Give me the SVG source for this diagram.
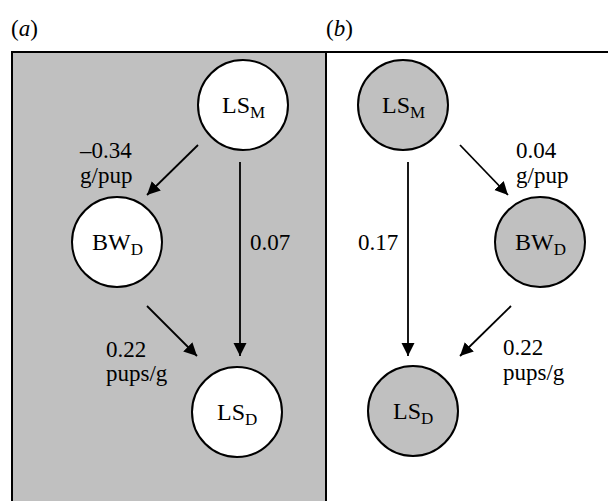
<svg xmlns="http://www.w3.org/2000/svg" width="608" height="501" viewBox="0 0 608 501" font-family="Liberation Serif">
<style>
.lbl{font-size:23px}
.nl{font-size:24px}
.sub{font-size:17px}
.node{stroke:#000;stroke-width:2}
.wn{fill:#fff}
.gn{fill:#c0c0c0}
.edge{stroke:#000;stroke-width:1.8;fill:none;marker-end:url(#ah)}
</style>
<defs>
<marker id="ah" markerUnits="userSpaceOnUse" markerWidth="14" markerHeight="14" refX="13" refY="6.5" orient="auto">
<path d="M0,0 L13,6.5 L0,13 z" fill="#000"/>
</marker>
</defs>
<rect width="608" height="501" fill="#fff"/>
<g id="panels">
<rect x="12" y="52" width="314" height="470" fill="#c0c0c0" stroke="#000" stroke-width="2"/>
<line x1="326" y1="52" x2="608" y2="52" stroke="#000" stroke-width="2"/>
<text class="lbl" x="11" y="36" font-family="Liberation Serif">(<tspan font-style="italic">a</tspan>)</text>
<text class="lbl" x="326" y="36" font-family="Liberation Serif">(<tspan font-style="italic">b</tspan>)</text>
</g>
<g id="connectors">
<line class="edge" x1="198" y1="145" x2="147" y2="195"/>
<line class="edge" x1="240" y1="162" x2="240" y2="356"/>
<line class="edge" x1="147" y1="306" x2="197" y2="356"/>
<line class="edge" x1="460" y1="145" x2="508" y2="195"/>
<line class="edge" x1="408" y1="162" x2="408" y2="356"/>
<line class="edge" x1="511" y1="306" x2="460" y2="356"/>
<g font-family="Liberation Serif">
<text class="lbl" x="80" y="158">–0.34</text>
<text class="lbl" x="80" y="183">g/pup</text>
<text class="lbl" x="250" y="250">0.07</text>
<text class="lbl" x="106" y="357">0.22</text>
<text class="lbl" x="106" y="381">pups/g</text>
<text class="lbl" x="516" y="158">0.04</text>
<text class="lbl" x="516" y="183">g/pup</text>
<text class="lbl" x="358" y="250">0.17</text>
<text class="lbl" x="503" y="355">0.22</text>
<text class="lbl" x="503" y="380">pups/g</text>
</g>
</g>
<g id="a-LSM" font-family="Liberation Serif">
<circle class="node wn" cx="243" cy="105" r="45"/>
<text class="nl" x="222" y="113">LS<tspan class="sub" dy="5">M</tspan></text>
</g>
<g id="a-BWD" font-family="Liberation Serif">
<circle class="node wn" cx="117" cy="242" r="45"/>
<text class="nl" x="92" y="250">BW<tspan class="sub" dy="5">D</tspan></text>
</g>
<g id="a-LSD" font-family="Liberation Serif">
<circle class="node wn" cx="237" cy="412" r="45"/>
<text class="nl" x="217" y="420">LS<tspan class="sub" dy="5">D</tspan></text>
</g>
<g id="b-LSM" font-family="Liberation Serif">
<circle class="node gn" cx="403" cy="105" r="45"/>
<text class="nl" x="382" y="113">LS<tspan class="sub" dy="5">M</tspan></text>
</g>
<g id="b-BWD" font-family="Liberation Serif">
<circle class="node gn" cx="540" cy="242" r="45"/>
<text class="nl" x="515" y="250">BW<tspan class="sub" dy="5">D</tspan></text>
</g>
<g id="b-LSD" font-family="Liberation Serif">
<circle class="node gn" cx="413" cy="411" r="45"/>
<text class="nl" x="393" y="419">LS<tspan class="sub" dy="5">D</tspan></text>
</g>
</svg>
